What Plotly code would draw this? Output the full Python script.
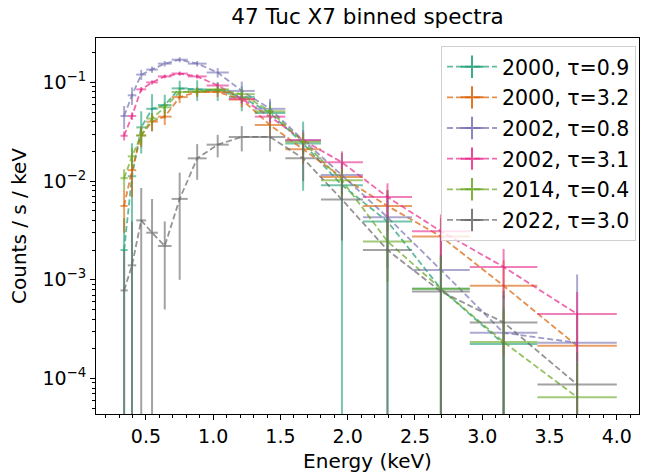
import plotly.graph_objects as go

# Energy bins (keV): lower and upper edge of each bin
bin_lo = [0.311, 0.365, 0.428, 0.502, 0.589, 0.691, 0.811, 0.951,
          1.116, 1.309, 1.536, 1.801, 2.113, 2.478, 2.907, 3.410]
bin_hi = [0.365, 0.428, 0.502, 0.589, 0.691, 0.811, 0.951, 1.116,
          1.309, 1.536, 1.801, 2.113, 2.478, 2.907, 3.410, 4.000]

# Count rates (counts / s / keV) and 1-sigma errors per spectrum
rate_2000_t09 = [0.0020, 0.0112, 0.035, 0.054, 0.059, 0.087, 0.085, 0.083,
                 0.071, 0.049, 0.024, 0.0091, 0.0039, 0.00081, 0.000224, None]
err_2000_t09 = [0.0022, 0.013, 0.016, 0.022, 0.016, 0.017, 0.020, 0.018,
                0.020, 0.015, 0.016, 0.010, 0.0042, 0.0010, 0.00030, None]

rate_2000_t32 = [0.0056, 0.0129, 0.029, 0.040, 0.045, 0.071, 0.080, 0.080,
                 0.067, 0.037, 0.021, 0.011, 0.0056, 0.00275, 0.00087, 0.000214]
err_2000_t32 = [0.0026, 0.006, 0.007, 0.008, 0.008, 0.009, 0.009, 0.009,
                0.011, 0.010, 0.006, 0.004, 0.0025, 0.0015, 0.0007, 0.00025]

rate_2002_t08 = [0.0457, 0.074, 0.120, 0.135, 0.155, 0.170, 0.155, 0.126,
                 0.082, 0.054, 0.026, 0.0115, 0.0043, 0.00126, 0.00029, 0.00023]
err_2002_t08 = [0.012, 0.015, 0.014, 0.010, 0.010, 0.010, 0.010, 0.014,
                0.020, 0.014, 0.007, 0.004, 0.003, 0.0015, 0.0004, 0.0009]

rate_2002_t31 = [0.0288, 0.0457, 0.085, 0.100, 0.115, 0.123, 0.115, 0.093,
                 0.068, 0.045, 0.026, 0.0155, 0.0069, 0.0031, 0.00135, 0.00045]
err_2002_t31 = [0.003, 0.004, 0.005, 0.005, 0.005, 0.006, 0.006, 0.006,
                0.007, 0.006, 0.005, 0.0045, 0.0026, 0.0015, 0.0007, 0.0003]

rate_2014_t04 = [0.0107, 0.0178, 0.029, 0.043, 0.056, 0.080, 0.081, 0.085,
                 0.076, 0.051, 0.025, 0.0102, 0.00245, 0.00081, 0.000234, 0.0000646]
err_2014_t04 = [0.0025, 0.004, 0.006, 0.006, 0.007, 0.007, 0.007, 0.007,
                0.009, 0.008, 0.006, 0.003, 0.0015, 0.0009, 0.00025, 0.00008]

rate_2022_t30 = [0.00078, 0.0014, 0.0040, 0.0030, 0.0022, 0.0066, 0.017, 0.0234,
                 0.028, 0.028, 0.017, 0.0065, 0.0020, 0.00076, 0.00037, 0.000087]
err_2022_t30 = [0.0012, 0.0025, 0.0045, 0.0036, 0.0017, 0.0056, 0.0067, 0.006,
                0.008, 0.008, 0.007, 0.004, 0.0025, 0.001, 0.0004, 0.0001]

labels = ["2000, τ=0.9", "2000, τ=3.2", "2002, τ=0.8",
          "2002, τ=3.1", "2014, τ=0.4", "2022, τ=3.0"]
colors = ["#1b9e77", "#d95f02", "#7570b3", "#e7298a", "#66a61e", "#666666"]
rates = [rate_2000_t09, rate_2000_t32, rate_2002_t08,
         rate_2002_t31, rate_2014_t04, rate_2022_t30]
errors = [err_2000_t09, err_2000_t32, err_2002_t08,
          err_2002_t31, err_2014_t04, err_2022_t30]

title = "47 Tuc X7 binned spectra"
x_label = "Energy (keV)"
y_label = "Counts / s / keV"
FONT = "DejaVu Sans"


def rgba(hex_color, a):
    h = hex_color.lstrip("#")
    r, g, b = (int(h[i:i + 2], 16) for i in (0, 2, 4))
    return f"rgba({r},{g},{b},{a})"


centers = [(lo + hi) / 2 for lo, hi in zip(bin_lo, bin_hi)]
half_w = [(hi - lo) / 2 for lo, hi in zip(bin_lo, bin_hi)]

fig = go.Figure()
for lab, col, y, e in zip(labels, colors, rates, errors):
    xe = [hw if v is not None else None for hw, v in zip(half_w, y)]
    fig.add_trace(go.Scatter(
        x=centers, y=y, mode="lines", showlegend=False,
        line=dict(color=rgba(col, 0.7), width=1.8, dash="6px,3px"),
        error_y=dict(type="data", array=e, symmetric=True,
                     color=rgba(col, 0.6), thickness=2, width=0),
        error_x=dict(type="data", array=xe, symmetric=True,
                     color=rgba(col, 0.6), thickness=2, width=0),
    ))

# legend handles: dashed line with a cross
for i, (lab, col) in enumerate(zip(labels, colors)):
    fig.add_trace(go.Scatter(
        x=[None], y=[None], mode="lines+markers", name=lab,
        legendgroup=f"g{i}",
        line=dict(color=rgba(col, 0.7), width=1.8, dash="6px,3px"),
        marker=dict(symbol="cross-thin", size=16,
                    line=dict(color=rgba(col, 0.85), width=2)),
    ))

y_major = [1e-4, 1e-3, 1e-2, 1e-1]
y_text = ["10<sup>−4</sup>", "10<sup>−3</sup>", "10<sup>−2</sup>", "10<sup>−1</sup>"]
y_minor = [k * 10.0 ** d for d in range(-5, 0) for k in range(2, 10)]

fig.update_layout(
    width=645, height=474,
    margin=dict(l=96, r=5, t=38, b=55),
    paper_bgcolor="white", plot_bgcolor="white",
    font=dict(family=FONT, size=19, color="black"),
    title=dict(text=title, x=0.5, xref="paper",
               y=1 - 16 / 474, yref="container", yanchor="middle",
               font=dict(family=FONT, size=21.5, color="black")),
    showlegend=True,
    legend=dict(x=0.9945, xanchor="right", y=0.979, yanchor="top",
                bgcolor="rgba(255,255,255,0.8)", bordercolor="#d0d0d0",
                borderwidth=1, font=dict(family=FONT, size=20.5),
                itemwidth=50, traceorder="grouped", tracegroupgap=1),
)

fig.update_xaxes(
    range=[0.129, 4.165], showgrid=False, zeroline=False,
    showline=True, linecolor="black", linewidth=1, mirror=True,
    ticks="outside", ticklen=5, tickwidth=1, tickcolor="black",
    tickvals=[0.5, 1.0, 1.5, 2.0, 2.5, 3.0, 3.5, 4.0],
    ticktext=["0.5", "1.0", "1.5", "2.0", "2.5", "3.0", "3.5", "4.0"],
    minor=dict(ticks="outside", ticklen=3, tickcolor="black", dtick=0.1, tick0=0),
    title=dict(text=x_label, standoff=8, font=dict(family=FONT, size=20)),
)

fig.update_yaxes(
    type="log", range=[-4.36, -0.55], showgrid=False, zeroline=False,
    showline=True, linecolor="black", linewidth=1, mirror=True,
    ticks="outside", ticklen=5, tickwidth=1, tickcolor="black",
    tickvals=y_major, ticktext=y_text,
    minor=dict(ticks="outside", ticklen=3, tickcolor="black", tickvals=y_minor),
    title=dict(text=y_label, standoff=10, font=dict(family=FONT, size=20)),
)

fig.write_html("out.html")
